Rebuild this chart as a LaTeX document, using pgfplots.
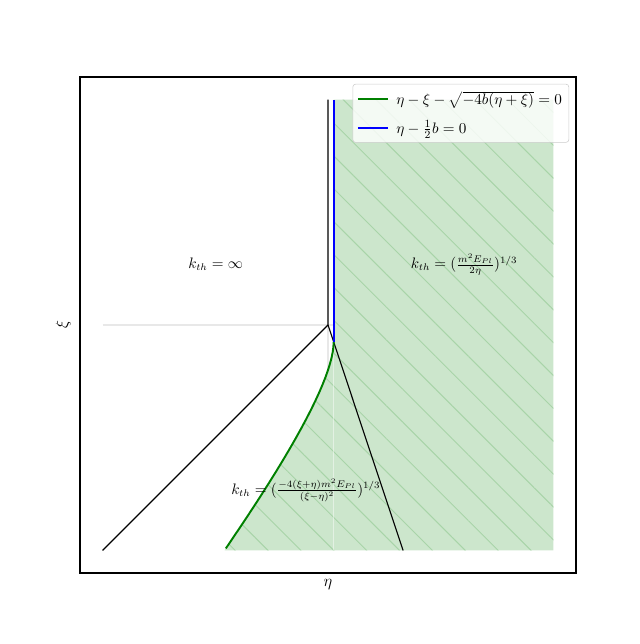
\documentclass[border=0pt]{standalone}
\usepackage{fontspec}
\setmainfont{DejaVu Sans}
\usepackage{pgfplots}
\pgfplotsset{compat=1.18}
\usetikzlibrary{patterns.meta}
\definecolor{mplgreen}{RGB}{0,128,0}
\definecolor{mplblue}{RGB}{0,0,255}
\definecolor{hatchgreen}{RGB}{168,212,168}

\begin{document}
\begin{tikzpicture}[font=\fontsize{10.5}{12.5}\selectfont]
\useasboundingbox (0,0) rectangle (6.4in,6.44in);
\begin{axis}[
    at={(0.8in,0.71in)}, anchor=south west,
    width=4.96in, height=4.96in, scale only axis,
    xmin=-1.1, xmax=1.1, ymin=-1.1, ymax=1.1,
    xtick=\empty, ytick=\empty,
    clip=false,
    axis line style={line width=0.8pt},
    legend cell align=left,
    legend image code/.code={\draw[#1] (0pt,0pt) -- (21.6pt,0pt); \path (25pt,0pt);},
    legend style={at={(rel axis cs:1,1)}, anchor=north east,
        xshift=-5pt, yshift=-5pt, draw=black!20, rounded corners=2pt,
        fill=white, fill opacity=0.8, text opacity=1,
        inner xsep=3pt, inner ysep=3pt, row sep=6pt,
        font=\fontsize{11}{13}\selectfont},
]
% guide lines at zero
\addplot[forget plot, black!9, line width=1pt] coordinates {(-1,0) (1,0)};
\addplot[forget plot, black!9, line width=1pt] coordinates {(0,-1) (0,0)};

% allowed region
\addplot[forget plot, draw=none, fill=mplgreen!20,
    postaction={pattern={Lines[angle=-45, distance=16.8pt, line width=0.7pt]}, pattern color=hatchgreen}]
coordinates {
    (-0.459,-1) (-0.416,-0.936) (-0.375,-0.875) (-0.336,-0.816) (-0.299,-0.759)
    (-0.264,-0.704) (-0.231,-0.651) (-0.2,-0.6) (-0.171,-0.551) (-0.144,-0.504)
    (-0.119,-0.459) (-0.096,-0.416) (-0.075,-0.375) (-0.056,-0.336) (-0.039,-0.299)
    (-0.024,-0.264) (-0.011,-0.231) (0,-0.2) (0.009,-0.171) (0.016,-0.144)
    (0.021,-0.119) (0.024,-0.096) (0.025,-0.075) (0.025,1) (1,1) (1,-1)
} -- cycle;
\addplot[forget plot, white, opacity=0.45, line width=0.8pt] coordinates {(0.025,-1) (0.025,-0.075)};

% black boundaries
\addplot[forget plot, black, line width=0.8pt] coordinates {(-1,-1) (0,0) (0,1)};
\addplot[forget plot, black, line width=0.8pt] coordinates {(0,0) (0.3333,-1)};

\addplot[mplgreen, line width=1.4pt] coordinates {
    (0.025,-0.075) (0.024,-0.096) (0.021,-0.119) (0.016,-0.144) (0.009,-0.171)
    (0,-0.2) (-0.011,-0.231) (-0.024,-0.264) (-0.039,-0.299) (-0.056,-0.336)
    (-0.075,-0.375) (-0.096,-0.416) (-0.119,-0.459) (-0.144,-0.504) (-0.171,-0.551)
    (-0.2,-0.6) (-0.231,-0.651) (-0.264,-0.704) (-0.299,-0.759) (-0.336,-0.816)
    (-0.375,-0.875) (-0.416,-0.936) (-0.453,-0.991)
};
\addlegendentry{$\eta-\xi-\sqrt{-4b(\eta+\xi)}=0$}
\addplot[mplblue, line width=1.4pt] coordinates {(0.025,-0.075) (0.025,1)};
\addlegendentry{$\eta-\frac{1}{2}b=0$}

\node at (axis cs:-0.498,0.271) {$k_{th}=\infty$};
\node at (axis cs:0.604,0.267) {$k_{th}=(\frac{m^2E_{Pl}}{2\eta})^{1/3}$};
\node at (axis cs:-0.098,-0.733) {$k_{th}=(\frac{-4(\xi+\eta)m^2E_{Pl}}{(\xi-\eta)^2})^{1/3}$};

\node[font=\fontsize{12}{14}\selectfont] at ([yshift=-8.6pt]rel axis cs:0.5,0) {$\eta$};
\node[rotate=90, font=\fontsize{12}{14}\selectfont] at ([xshift=-12.2pt]rel axis cs:0,0.5) {$\xi$};
\end{axis}
\end{tikzpicture}
\end{document}
